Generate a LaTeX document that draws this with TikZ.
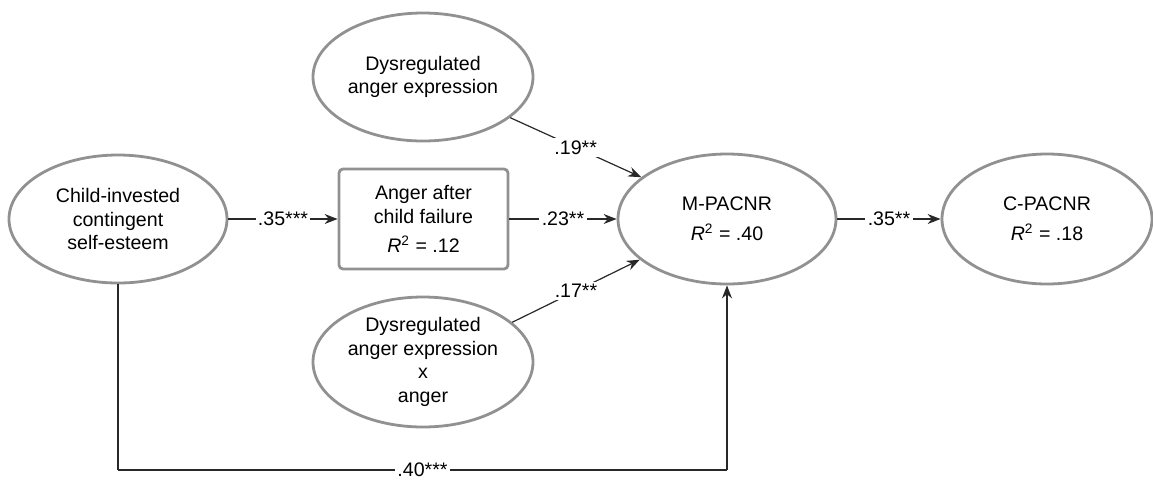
\documentclass[tikz,border=0pt]{standalone}
\usepackage{fontspec}
\setmainfont{Liberation Sans}
\usetikzlibrary{shapes.geometric,arrows.meta}
\definecolor{bordergray}{RGB}{145,145,145}
\definecolor{linedark}{RGB}{40,40,40}
\tikzset{
  every node/.style={font=\fontsize{9.8}{11.8}\selectfont, align=center},
  latent/.style={ellipse, draw=bordergray, line width=1.4pt, inner sep=0pt},
  observed/.style={rectangle, rounded corners=2pt, draw=bordergray, line width=1.4pt, inner sep=0pt},
  path/.style={draw=linedark, line width=0.6pt, -{Stealth[length=6.5pt,width=5pt]}},
  plain/.style={draw=linedark, line width=0.6pt},
  coef/.style={fill=white, inner sep=1.2pt}
}
\newcommand{\Rsq}[1]{\textit{R}\textsuperscript{2} = #1}
\begin{document}
\begin{tikzpicture}[x=0.5pt,y=-0.5pt]
\useasboundingbox (0,0) rectangle (1153,479);
\node[latent, minimum width=109pt, minimum height=64pt] (child) at (118,219) {Child-invested\\contingent\\self-esteem};
\node[latent, minimum width=110pt, minimum height=64pt] (top) at (423,77) {Dysregulated\\anger expression};
\node[observed, minimum width=84.5pt, minimum height=50pt] (box) at (423.5,219) {Anger after\\child failure\\[3pt]\Rsq{.12}};
\node[latent, minimum width=110pt, minimum height=65pt] (bot) at (423,362) {Dysregulated\\anger expression\\x\\anger};
\node[latent, minimum width=109pt, minimum height=65pt] (m) at (727,219) {M-PACNR\\[3pt]\Rsq{.40}};
\node[latent, minimum width=105pt, minimum height=65pt] (c) at (1047,219) {C-PACNR\\[3pt]\Rsq{.18}};
\coordinate (cl) at (118,470);
\coordinate (cr) at (727,470);
\draw[path] (child) -- node[coef] {.35***} (box);
\draw[path] (box) -- node[coef] {.23**} (m);
\draw[path] (m) -- node[coef] {.35**} (c);
\draw[path] (top.335) -- node[coef] {.19**} (m.154.8);
\draw[path] (bot.24.7) -- node[coef] {.17**} (m.205.2);
\draw[plain] (child) -- (cl);
\draw[plain] (cl) -- node[coef] {.40***} (cr);
\draw[path] (cr) -- (m);
\end{tikzpicture}
\end{document}
